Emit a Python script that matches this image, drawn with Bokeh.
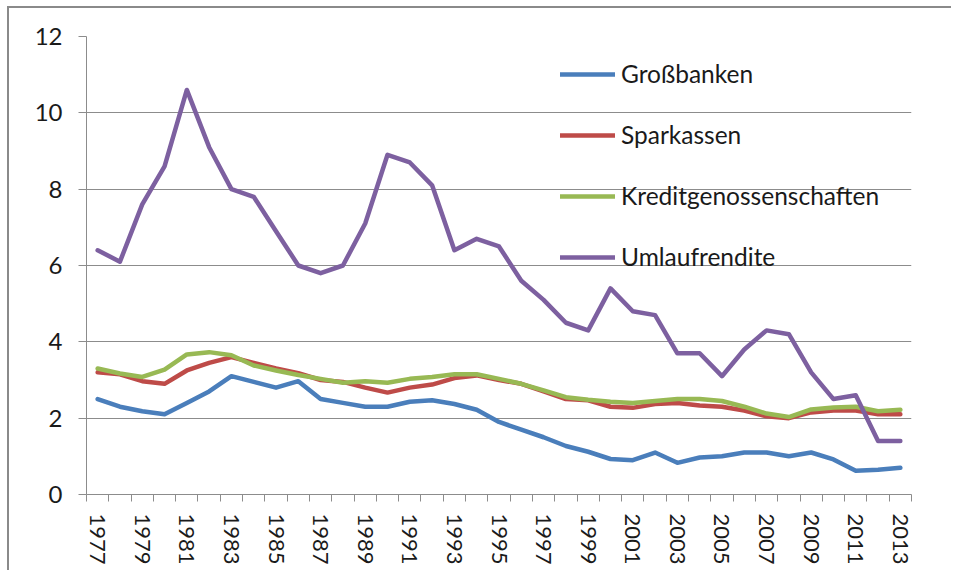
from bokeh.plotting import figure
from bokeh.models import Range1d, FixedTicker, Legend, LegendItem
from bokeh.embed import file_html
from bokeh.resources import INLINE

years = list(range(1977, 2014))

grossbanken = [2.5, 2.3, 2.18, 2.1, 2.4, 2.7, 3.1, 2.95, 2.8, 2.97,
               2.5, 2.4, 2.3, 2.3, 2.43, 2.47, 2.37, 2.22, 1.9, 1.7,
               1.5, 1.27, 1.12, 0.93, 0.9, 1.1, 0.83, 0.97, 1.0, 1.1,
               1.1, 1.0, 1.1, 0.92, 0.62, 0.65, 0.7]

sparkassen = [3.2, 3.15, 2.97, 2.9, 3.25, 3.45, 3.6, 3.45, 3.3, 3.18,
              3.0, 2.95, 2.8, 2.67, 2.8, 2.88, 3.05, 3.12, 3.0, 2.9,
              2.7, 2.5, 2.47, 2.3, 2.27, 2.37, 2.4, 2.33, 2.3, 2.2,
              2.05, 2.0, 2.15, 2.2, 2.2, 2.1, 2.1]

kreditgenossenschaften = [3.3, 3.17, 3.08, 3.27, 3.67, 3.73, 3.65, 3.38, 3.25, 3.13,
                          3.03, 2.93, 2.97, 2.93, 3.03, 3.08, 3.15, 3.15, 3.03, 2.9,
                          2.73, 2.55, 2.48, 2.43, 2.4, 2.45, 2.5, 2.5, 2.45, 2.3,
                          2.12, 2.03, 2.23, 2.28, 2.3, 2.18, 2.22]

umlaufrendite = [6.4, 6.1, 7.6, 8.6, 10.6, 9.1, 8.0, 7.8, 6.9, 6.0,
                 5.8, 6.0, 7.1, 8.9, 8.7, 8.1, 6.4, 6.7, 6.5, 5.6,
                 5.1, 4.5, 4.3, 5.4, 4.8, 4.7, 3.7, 3.7, 3.1, 3.8,
                 4.3, 4.2, 3.2, 2.5, 2.6, 1.4, 1.4]

series_names = ["Großbanken", "Sparkassen", "Kreditgenossenschaften", "Umlaufrendite"]
series_values = [grossbanken, sparkassen, kreditgenossenschaften, umlaufrendite]
series_colors = ["#4A7EBB", "#BE4B48", "#98B954", "#7D60A0"]

y_ticks = [0, 2, 4, 6, 8, 10, 12]
x_label_years = list(range(1977, 2014, 2))

FONT = "Lato"
GRID = "#8C8C8C"

p = figure(width=944, height=564, output_backend="svg", toolbar_location=None,
           x_range=Range1d(years[0] - 0.5, years[-1] + 0.5),
           y_range=Range1d(0, 12),
           min_border_left=77, min_border_right=42, min_border_top=28, min_border_bottom=78)
p.styles = {"border-style": "solid", "border-color": "#8A8A8A",
            "border-width": "2px 0px 0px 2px",
            "margin-left": "7px", "margin-top": "6px"}
p.outline_line_color = None
p.background_fill_color = "white"
p.border_fill_color = "white"

# axes
p.yaxis.ticker = FixedTicker(ticks=y_ticks)
p.yaxis.axis_line_color = GRID
p.yaxis.major_tick_line_color = GRID
p.yaxis.major_tick_out = 8
p.yaxis.major_tick_in = 0
p.yaxis.minor_tick_line_color = None
p.yaxis.major_label_standoff = 16
p.yaxis.major_label_text_font = FONT
p.yaxis.major_label_text_font_size = "24px"
p.yaxis.major_label_text_color = "#1A1A1A"

p.xaxis.ticker = FixedTicker(ticks=x_label_years,
                             minor_ticks=[y - 0.5 for y in years] + [years[-1] + 0.5])
p.xaxis.axis_line_color = GRID
p.xaxis.major_tick_out = 0
p.xaxis.major_tick_in = 0
p.xaxis.minor_tick_line_color = GRID
p.xaxis.minor_tick_out = 7
p.xaxis.minor_tick_in = 0
p.xaxis.major_label_orientation = "vertical"
p.xaxis.major_label_standoff = 12
p.xaxis.major_label_text_font = FONT
p.xaxis.major_label_text_font_size = "22px"
p.xaxis.major_label_text_color = "#1A1A1A"

p.xgrid.grid_line_color = None
p.ygrid.grid_line_color = GRID
p.ygrid.grid_line_width = 1

items = []
for name, vals, col in zip(series_names, series_values, series_colors):
    r = p.line(years, vals, line_color=col, line_width=4.5, line_join="round", line_cap="round")
    items.append(LegendItem(label=name, renderers=[r]))

legend = Legend(items=items, location=(474, 223), orientation="vertical",
                glyph_width=55, glyph_height=20, label_height=20, spacing=32,
                label_standoff=6, padding=0, margin=0,
                border_line_color=None, background_fill_alpha=0,
                label_text_font=FONT, label_text_font_size="24.5px",
                label_text_color="#1A1A1A")
p.add_layout(legend, "center")

open("out.html", "w").write(file_html(p, INLINE))
